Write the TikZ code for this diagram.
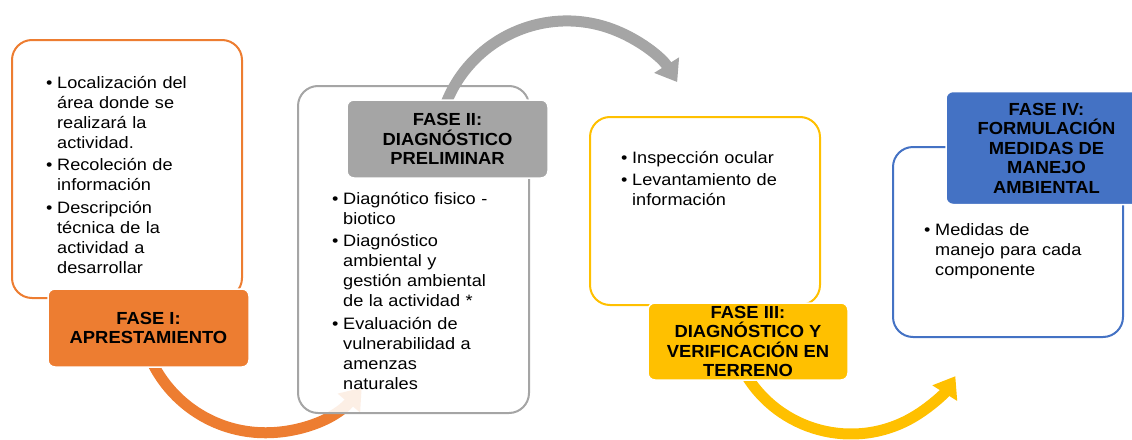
\documentclass[tikz,border=0pt]{standalone}
\usepackage{fontspec}
\setmainfont{Liberation Sans}[FakeStretch=1.1, BoldFeatures={FakeStretch=1.05}]
\usetikzlibrary{arrows.meta}

\definecolor{faseorange}{HTML}{ED7D31}
\definecolor{fasegrey}{HTML}{A5A5A5}
\definecolor{faseyellow}{HTML}{FFC000}
\definecolor{faseblue}{HTML}{4472C4}

% first bullet of a list, and the ones after it
\newcommand\bfirst{\leftskip=11pt\noindent\llap{\hbox to 11pt{\textbullet\hfil}}}
\newcommand\bitem{\par\bfirst}

\begin{document}
\begin{tikzpicture}[x=1pt, y=-1pt]
  \tikzstyle{phasebox} = [rectangle, draw, line width=2pt, fill=white,
    rounded corners=20pt, minimum width=230pt, inner sep=0pt]
  \tikzstyle{phaselabel} = [rectangle, draw=white, line width=1.5pt, rounded corners=7pt,
    minimum width=201pt, minimum height=78pt, align=center, inner sep=0pt,
    font=\bfseries\fontsize{17.5}{19.5}\selectfont]
  \tikzstyle{items} = [text width=200pt, align=left, anchor=base west, inner sep=0pt,
    font=\fontsize{16.5}{20}\selectfont\setlength{\parskip}{2.5pt}]
  \tikzstyle{flow} = [line width=11pt, -{Triangle[length=20pt, width=28pt]}]

  \useasboundingbox (0,0) rectangle (1132,439);

  % Place boxes
  \node [phasebox, draw=faseorange, minimum height=258pt] (boxI) at (127,169) {};
  \node [phasebox, draw=faseyellow, minimum height=188pt] (boxIII) at (705,211) {};
  \node [phasebox, draw=faseblue, minimum height=190pt] (boxIV) at (1008,242) {};

  % orange arc runs behind box II
  \coordinate (startI) at (151,360);
  \draw [flow, faseorange] (startI) arc [start angle=155, end angle=40, radius=126];

  \node [phasebox, draw=fasegrey, fill opacity=0.88, minimum width=231pt,
    minimum height=327pt] (boxII) at (413.5,249.5) {};

  % Draw arcs
  \coordinate (startII) at (444.8,106.5);
  \draw [flow, fasegrey] (startII) arc [start angle=200, end angle=328, radius=130];
  \coordinate (startIII) at (744.5,372.5);
  \draw [flow, faseyellow] (startIII) arc [start angle=150, end angle=32, radius=123];

  % Place labels
  \node [phaselabel, fill=faseorange] (labI) at (148.5,328) {FASE I:\\APRESTAMIENTO};
  \node [phaselabel, fill=fasegrey] (labII) at (447.5,139) {FASE II:\\DIAGNÓSTICO\\PRELIMINAR};
  \node [phaselabel, fill=faseyellow, minimum width=200pt, minimum height=77pt] (labIII)
    at (748,341.5) {FASE III:\\DIAGNÓSTICO Y\\VERIFICACIÓN EN\\TERRENO};
  \node [phaselabel, fill=faseblue, minimum height=113pt] (labIV)
    at (1046.5,148) {FASE IV:\\FORMULACIÓN\\MEDIDAS DE\\MANEJO\\AMBIENTAL};

  % Place item lists
  \node [items] (listI) at (46,88) {\bfirst Localización del\newline área donde se\newline
    realizará la\newline actividad. \bitem Recoleción de\newline información
    \bitem Descripción\newline técnica de la\newline actividad a\newline desarrollar\par};
  \node [items] (listII) at (332,204) {\bfirst Diagnótico fisico -\newline biotico
    \bitem Diagnóstico\newline ambiental y\newline gestión ambiental\newline de la actividad *
    \bitem Evaluación de\newline vulnerabilidad a\newline amenzas\newline naturales\par};
  \node [items] (listIII) at (621,163) {\bfirst Inspección ocular
    \bitem Levantamiento de\newline información\par};
  \node [items] (listIV) at (924,235) {\bfirst Medidas de\newline manejo para cada\newline
    componente\par};

\end{tikzpicture}
\end{document}
